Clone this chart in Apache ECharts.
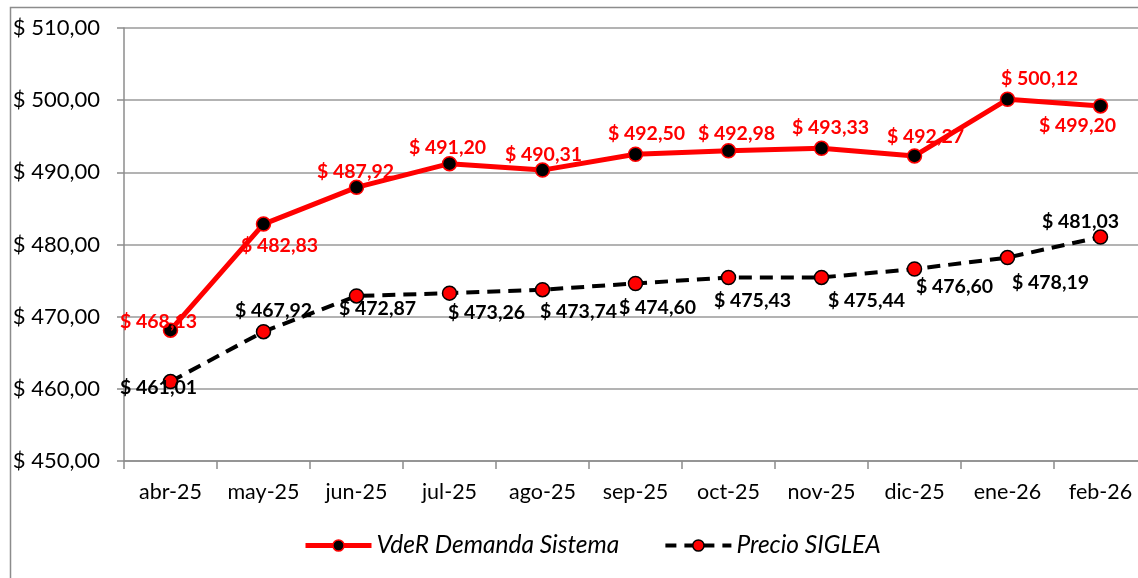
<!DOCTYPE html>
<html><head><meta charset="utf-8">
<script src="https://cdn.jsdelivr.net/npm/echarts@6/dist/echarts.min.js"></script>
<style>html,body{margin:0;padding:0;background:#fff}#c{width:1138px;height:578px}</style>
</head><body><div id="c"></div>
<script>
const categories = ['abr-25','may-25','jun-25','jul-25','ago-25','sep-25','oct-25','nov-25','dic-25','ene-26','feb-26'];
const vderValues = [468.13, 482.83, 487.92, 491.20, 490.31, 492.50, 492.98, 493.33, 492.27, 500.12, 499.20];
const sigleaValues = [461.01, 467.92, 472.87, 473.26, 473.74, 474.60, 475.43, 475.44, 476.60, 478.19, 481.03];
const seriesNames = ['VdeR Demanda Sistema', 'Precio SIGLEA'];
const yMin = 450, yMax = 510, yStep = 10;

// label placement (style only)
const vderOffsets = [[-12,-8],[16,22],[-1,-16],[-2,-16],[1,-15],[11,-21],[8,-17],[9,-21],[11,-19],[32,-21],[-23,20]];
const sigleaOffsets = [[-12,6],[10,-21],[21,13],[37,20],[36,22],[22,24],[24,23],[45,23],[40,18],[43,25],[-20,-15]];

const fmt = v => '$ ' + v.toFixed(2).replace('.', ',');
const FONT = 'Lato, Carlito, "Open Sans", sans-serif';

function build(values, offsets) {
  return values.map((v, i) => ({ value: v, label: { offset: offsets[i] } }));
}

const chart = echarts.init(document.getElementById('c'), null, {renderer: 'canvas'});
chart.setOption({
  animation: false,
  backgroundColor: '#fff',
  textStyle: { fontFamily: FONT },
  graphic: [{
    type: 'rect', left: 8, top: 5, silent: true, z: -1,
    shape: { width: 1160, height: 600 },
    style: { fill: null, stroke: '#8c8c8c', lineWidth: 1.5 }
  }],
  grid: { left: 124, top: 28, bottom: 117, right: -9, containLabel: false, outerBoundsMode: 'none' },
  legend: {
    top: 528, left: 298,
    itemWidth: 66, itemHeight: 14, itemGap: 44,
    textStyle: { fontFamily: FONT, fontSize: 24.5, fontStyle: 'italic', color: '#000' },
    data: [
      { name: seriesNames[0], itemStyle: { color: '#000', borderColor: '#ff0000', borderWidth: 1.5 },
        lineStyle: { color: '#ff0000', width: 5 } },
      { name: seriesNames[1], itemStyle: { color: '#ff0000', borderColor: '#000', borderWidth: 1.5 },
        lineStyle: { color: '#000', width: 4, type: [11, 8] } }
    ]
  },
  xAxis: {
    type: 'category', data: categories, boundaryGap: true,
    axisLine: { lineStyle: { color: '#8c8c8c', width: 1.5 } },
    axisTick: { show: true, length: 8, lineStyle: { color: '#8c8c8c', width: 1.5 } },
    axisLabel: { fontFamily: FONT, fontSize: 21.5, color: '#000', margin: 20, interval: 0 }
  },
  yAxis: {
    type: 'value', min: yMin, max: yMax, interval: yStep,
    axisLine: { show: true, lineStyle: { color: '#8c8c8c', width: 1.5 } },
    axisTick: { show: true, length: 7, lineStyle: { color: '#8c8c8c', width: 1.5 } },
    splitLine: { lineStyle: { color: '#9a9a9a', width: 1.5 } },
    axisLabel: { fontFamily: FONT, fontSize: 22, color: '#000', margin: 24, formatter: v => fmt(v) }
  },
  series: [
    {
      name: seriesNames[0], type: 'line', data: build(vderValues, vderOffsets),
      symbol: 'circle', symbolSize: 14,
      lineStyle: { color: '#ff0000', width: 5 },
      itemStyle: { color: '#000', borderColor: '#ff0000', borderWidth: 1.5 },
      label: { show: true, position: 'inside', formatter: p => fmt(p.value),
        fontFamily: FONT, fontSize: 19.5, fontWeight: 'bold', color: '#ff0000' },
      z: 3
    },
    {
      name: seriesNames[1], type: 'line', data: build(sigleaValues, sigleaOffsets),
      symbol: 'circle', symbolSize: 14,
      lineStyle: { color: '#000', width: 4, type: [13, 8] },
      itemStyle: { color: '#ff0000', borderColor: '#000', borderWidth: 1.5 },
      label: { show: true, position: 'inside', formatter: p => fmt(p.value),
        fontFamily: FONT, fontSize: 19.5, fontWeight: 'bold', color: '#000' },
      z: 2
    }
  ]
});
</script></body></html>
